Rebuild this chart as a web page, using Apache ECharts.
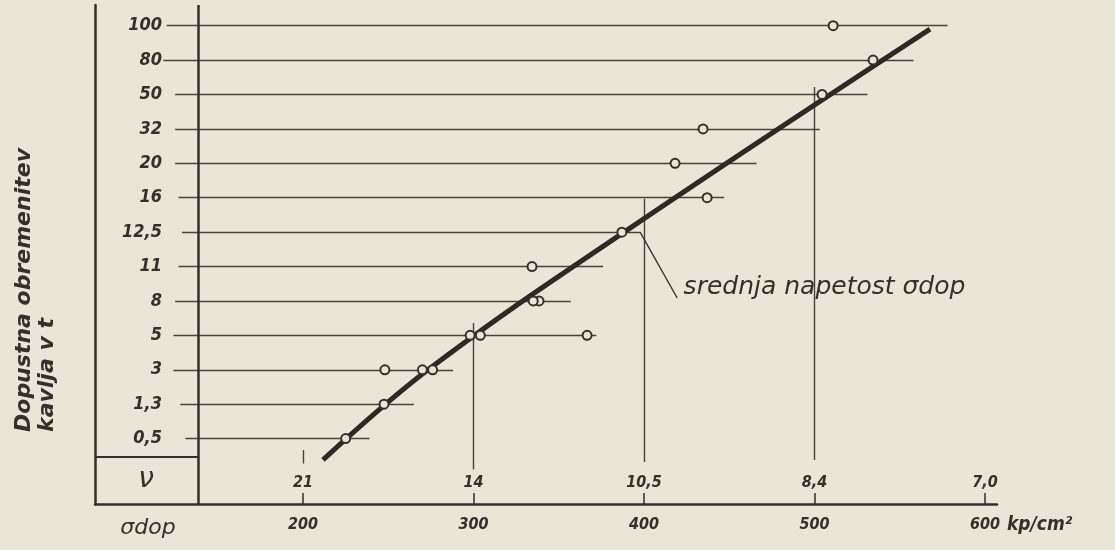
<!DOCTYPE html>
<html lang="sl">

<head>
    <meta charset="UTF-8" />
    <title>Dopustna obremenitev kavlja</title>
    <script src="https://cdn.jsdelivr.net/npm/echarts@6/dist/echarts.min.js"></script>
    <style>
        html, body { margin: 0; padding: 0; background: #ebe5d8; }
        #chart { width: 1115px; height: 550px; }
    </style>
</head>

<body>
    <div id="chart"></div>

    <script>
        // vrstice: dopustna obremenitev kavlja v t (od spodaj navzgor)
        const rowLabels = ['0,5', '1,3', '3', '5', '8', '11', '12,5', '16', '20', '32', '50', '80', '100'];
        const rowIdx = rowLabels.map((_, i) => i);
        // začetek in konec vodoravnih črt (kp/cm2)
        const rowStart = [131, 128, 124, 124, 125, 127, 129, 127, 125, 125, 125, 118, 120];
        const rowEnd = [239, 265, 288, 372, 357, 376, 398, 447, 466, 503, 531, 558, 578];

        // spodnja os: sigma dop in pripadajoči nu
        const sigmaTicks = [200, 300, 400, 500, 600];
        const nuLabels = ['21', '14', '10,5', '8,4', '7,0'];
        // navpične črte nad oznakami nu (vrh / dno v enotah vrstic)
        const vLineX = [200, 300, 400, 500];
        const vLineTop = [-0.33, 3.36, 6.97, 10.22];
        const vLineBottom = [-0.72, -0.9, -0.68, -0.62];

        // srednja napetost - debela črta
        const fitX = [211.7, 273.3, 388.3, 567.7];
        const fitRow = [-0.62, 2, 6, 11.9];

        // izmerjene točke
        const pointX = [225, 247.5, 248, 270, 276, 366.6, 298, 304, 338.4, 335, 334.3, 387, 437, 418.2, 434.6, 504.4, 534.3, 510.9];
        const pointRow = [0, 1, 2, 2, 2, 3, 3, 3, 4, 4, 5, 6, 7, 8, 9, 10, 11, 12];

        const ink = '#35302a';
        const bg = '#ebe5d8';
        const hand = "'DejaVu Sans Condensed', 'DejaVu Sans', sans-serif";

        const xMin = 78, xMax = 607, yMin = -1.9, yMax = 12.6;
        const frameX = 138.4, boxY = -0.53;

        const chart = echarts.init(document.getElementById('chart'));

        const hLines = rowIdx.map(i => ({ coords: [[rowStart[i], i], [rowEnd[i], i]] }));
        const vLines = vLineX.map((x, i) => ({ coords: [[x, vLineTop[i]], [x, vLineBottom[i]]] }));

        const option = {
            backgroundColor: bg,
            animation: false,
            grid: { left: 95, right: 118, top: 5, bottom: 46, outerBoundsMode: 'none' },
            xAxis: [
                {
                    type: 'value', min: xMin, max: xMax, position: 'bottom', offset: 0,
                    splitLine: { show: false },
                    axisLine: { onZero: false, lineStyle: { color: ink, width: 2.5 } },
                    axisTick: { show: true, inside: true, length: 11, customValues: sigmaTicks, lineStyle: { color: ink, width: 1.5 } },
                    axisLabel: {
                        customValues: sigmaTicks, margin: 13, color: ink,
                        fontFamily: hand, fontStyle: 'italic', fontWeight: 'bold', fontSize: 16
                    },
                    name: 'kp/cm²', nameLocation: 'end', nameGap: 10,
                    nameTextStyle: {
                        color: ink, fontFamily: hand, fontStyle: 'italic', fontWeight: 'bold', fontSize: 19,
                        verticalAlign: 'top', align: 'left', padding: [12, 0, 0, 0]
                    }
                },
                {
                    type: 'value', min: xMin, max: xMax, position: 'bottom', offset: 0,
                    splitLine: { show: false },
                    axisLine: { show: false, onZero: false },
                    axisTick: { show: false },
                    axisLabel: {
                        inside: true, margin: 13, customValues: sigmaTicks, color: ink,
                        fontFamily: hand, fontStyle: 'italic', fontWeight: 'bold', fontSize: 16,
                        formatter: v => nuLabels[sigmaTicks.indexOf(v)]
                    }
                }
            ],
            yAxis: {
                type: 'value', min: yMin, max: yMax,
                splitLine: { show: false },
                axisTick: { show: false },
                axisLine: { show: true, onZero: false, lineStyle: { color: ink, width: 2.5 } },
                axisLabel: {
                    inside: true, align: 'right', margin: 67, customValues: rowIdx, color: ink,
                    fontFamily: hand, fontStyle: 'italic', fontWeight: 'bold', fontSize: 18,
                    formatter: v => rowLabels[v]
                }
            },
            graphic: [
                {
                    type: 'text', x: 36, y: 432, rotation: Math.PI / 2,
                    style: {
                        text: 'Dopustna obremenitev\nkavlja v t', fill: ink, lineHeight: 23,
                        font: "italic bold 22px 'DejaVu Sans', sans-serif",
                        textAlign: 'left', textVerticalAlign: 'middle'
                    }
                },
                {
                    type: 'text', x: 146, y: 480,
                    style: {
                        text: 'ν', fill: ink, font: "italic 28px 'DejaVu Sans', sans-serif",
                        textAlign: 'center', textVerticalAlign: 'middle'
                    }
                },
                {
                    type: 'text', x: 148, y: 528,
                    style: {
                        text: 'σdop', fill: ink, font: "italic 22px 'DejaVu Sans', sans-serif",
                        textAlign: 'center', textVerticalAlign: 'middle'
                    }
                }
            ],
            series: [
                {
                    name: 'okvir', type: 'lines', coordinateSystem: 'cartesian2d', silent: true,
                    lineStyle: { color: ink, width: 2.5, opacity: 1 },
                    data: [
                        { coords: [[frameX, yMin], [frameX, yMax]] },
                        { coords: [[xMin, boxY], [frameX, boxY]], lineStyle: { width: 2 } }
                    ]
                },
                {
                    name: 'obremenitve', type: 'lines', coordinateSystem: 'cartesian2d', silent: true,
                    lineStyle: { color: ink, width: 1.4, opacity: 0.9 },
                    data: hLines
                },
                {
                    name: 'nu', type: 'lines', coordinateSystem: 'cartesian2d', silent: true,
                    lineStyle: { color: ink, width: 1.4, opacity: 0.9 },
                    data: vLines
                },
                {
                    name: 'srednja napetost', type: 'line', symbol: 'none', silent: true, smooth: 0.4,
                    lineStyle: { color: '#2e2924', width: 5, cap: 'butt' },
                    data: fitX.map((x, i) => [x, fitRow[i]]),
                    z: 3
                },
                {
                    name: 'oznaka', type: 'line', symbol: 'circle', symbolSize: 1, silent: true,
                    itemStyle: { color: 'transparent' },
                    lineStyle: { color: ink, width: 1.3 },
                    data: [[397.7, 6.0], {
                        value: [419.4, 4.09],
                        label: {
                            show: true, position: 'right', distance: 6, offset: [0, -10],
                            formatter: 'srednja napetost σdop', color: ink,
                            fontFamily: "'DejaVu Sans', sans-serif", fontStyle: 'italic', fontSize: 25
                        }
                    }]
                },
                {
                    name: 'meritve', type: 'scatter', symbol: 'circle', symbolSize: 9, silent: true,
                    itemStyle: { color: bg, borderColor: ink, borderWidth: 2, opacity: 1 },
                    data: pointX.map((x, i) => [x, pointRow[i]]),
                    z: 4
                }
            ]
        };

        chart.setOption(option);
    </script>
</body>

</html>
